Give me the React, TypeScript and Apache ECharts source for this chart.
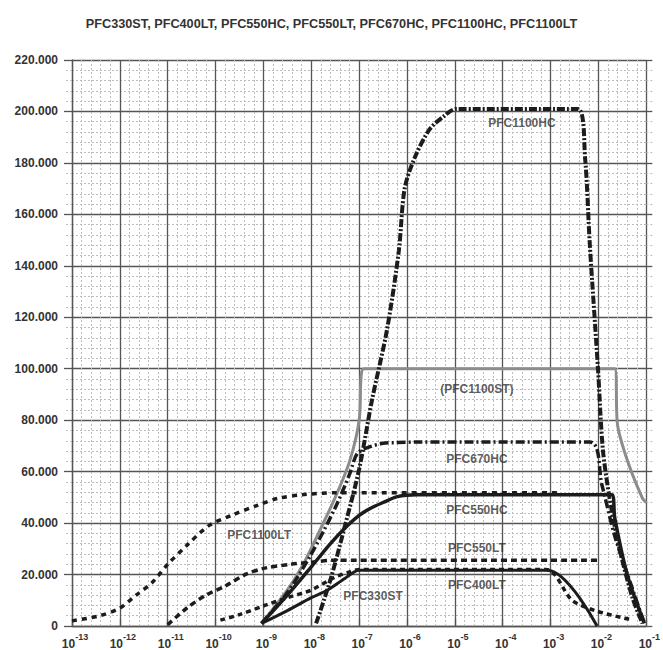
import React, { useEffect, useRef } from "react";
import * as echarts from "echarts";

// x values are stored as log10 exponents (axis runs from 10^-13 to 10^-1); y values in thousands
const xTicks = [-13, -12, -11, -10, -9, -8, -7, -6, -5, -4, -3, -2, -1];
const yTicks = [0, 20, 40, 60, 80, 100, 120, 140, 160, 180, 200, 220];

const hc1100LogX = [-7.9, -7.6, -7.31, -7.0, -6.73, -6.42, -6.17, -6.05, -5.84, -5.53, -5.24, -4.97, -2.43, -2.28, -2.18, -2.01, -1.91, -1.77, -1.56, -1.29, -1.08];
const hc1100Y = [1, 18, 38, 61, 88, 115, 146, 170, 182, 193, 198, 201, 201, 182, 148, 100, 69, 50, 30, 11, 1];

const st1100LogX = [-9.04, -8.5, -8.14, -7.8, -7.5, -7.2, -7.0, -6.96, -6.9, -1.66, -1.6, -1.39, -1.08, -1.0];
const st1100Y = [1, 14, 25, 38, 50, 64, 80, 97, 100, 100, 78, 64, 49.6, 48];

const hc670LogX = [-9.04, -8.5, -8.0, -7.5, -7.2, -7.04, -6.8, -6.5, -6.2, -5.8, -2.18, -1.93, -1.66, -1.3, -1.04];
const hc670Y = [1, 13, 28, 46, 59, 67, 69.5, 71, 71.3, 71.5, 71.5, 55, 35, 15, 1];

const hc550LogX = [-9.04, -8.5, -8.0, -7.6, -7.3, -7.0, -6.77, -6.5, -6.2, -5.8, -5.0, -1.72, -1.66, -1.4, -1.04];
const hc550Y = [1, 12, 23, 32, 38, 43, 45.7, 48, 50.3, 51, 51, 51, 42, 20, 1];

const st330LogX = [-9.04, -8.5, -8.0, -7.66, -7.3, -7.0, -3.07, -2.03];
const st330Y = [1, 6, 11, 14, 18.5, 21.7, 21.7, 0];

const lt400LogX = [-9.9, -9.52, -8.97, -8.5, -8.0, -7.5, -7.2, -7.0, -3.1, -2.55, -2.07, -1.45, -1.3];
const lt400Y = [2.3, 4.3, 8, 11, 14, 19, 21, 22, 22, 10, 6, 3, 2.5];

const lt550LogX = [-11.0, -10.6, -10.2, -9.8, -9.38, -8.97, -8.43, -8.0, -7.5, -1.97];
const lt550Y = [0.5, 7, 12, 15.5, 20, 22.5, 24, 24.8, 25.6, 25.6];

const lt1100LogX = [-13.0, -12.42, -12.0, -11.66, -11.32, -11.0, -10.62, -10.14, -9.67, -9.11, -8.7, -8.2, -7.5, -2.84];
const lt1100Y = [2, 4, 7, 12, 17, 24, 31, 39, 43, 47, 49.6, 51, 51.8, 51.8];

const labelNames = ["PFC1100HC", "(PFC1100ST)", "PFC670HC", "PFC550HC", "PFC550LT", "PFC400LT", "PFC330ST", "PFC1100LT"];
const labelLogX = [-3.6, -4.54, -4.54, -4.54, -4.54, -4.54, -6.71, -9.09];
const labelY = [195.6, 92.2, 65, 45, 30.2, 15.9, 11.6, 35.2];

const titleText = "PFC330ST, PFC400LT, PFC550HC, PFC550LT, PFC670HC, PFC1100HC, PFC1100LT";

const FONT = "'Liberation Sans', Arial, sans-serif";
const TXT = "#333333";
const MAJOR = "#555555";
const MINOR = "#bdbdbd";

const zip = (xs: number[], ys: number[]) => xs.map((x, i) => [x, ys[i]]);

export default function App() {
  const ref = useRef<HTMLDivElement>(null);
  useEffect(() => {
    if (!ref.current) return;
    const chart = echarts.init(ref.current, null, { renderer: "svg" });

    const lineSeries = (name: string, xs: number[], ys: number[], color: string, width: number, type: any, z = 3) => ({
      name,
      type: "line",
      data: zip(xs, ys),
      showSymbol: false,
      symbol: "none",
      smooth: 0.3,
      z,
      lineStyle: { color, width, type, cap: "butt" },
    });

    const xBase = { type: "value", min: xTicks[0], max: xTicks[xTicks.length - 1], interval: 1 };
    const yBase = { type: "value", min: yTicks[0], max: yTicks[yTicks.length - 1], interval: 20 };
    const minorStyle = { color: MINOR, width: 1, type: [2, 2] };
    const majorStyle = { color: MAJOR, width: 1.3 };

    chart.setOption({
      animation: false,
      backgroundColor: "#ffffff",
      title: {
        text: titleText,
        left: "center",
        top: 12,
        textStyle: { fontFamily: FONT, fontSize: 12.7, fontWeight: "bold", color: TXT },
      },
      grid: { left: 72, right: 11, top: 60, bottom: 22, containLabel: false },
      xAxis: [
        {
          ...xBase,
          position: "bottom",
          axisLine: { show: true, lineStyle: majorStyle },
          axisTick: { show: false },
          minorTick: { show: false, splitNumber: 5 },
          splitLine: { show: true, lineStyle: majorStyle },
          minorSplitLine: { show: true, lineStyle: minorStyle },
          axisLabel: {
            margin: 6,
            formatter: (v: number) => `{sp| }{b|10}{s|${v}}`,
            rich: {
              sp: { width: 6, fontSize: 12, lineHeight: 18 },
              b: { fontFamily: FONT, fontSize: 12, fontWeight: "bold", color: TXT, verticalAlign: "bottom", lineHeight: 18 },
              s: { fontFamily: FONT, fontSize: 9, fontWeight: "bold", color: TXT, verticalAlign: "top", lineHeight: 10 },
            },
          },
        },
        {
          ...xBase,
          position: "top",
          axisLine: { show: false },
          axisLabel: { show: false },
          axisTick: { show: true, length: 7, lineStyle: majorStyle },
          minorTick: { show: true, splitNumber: 5, length: 7, lineStyle: minorStyle },
          splitLine: { show: false },
        },
      ],
      yAxis: [
        {
          ...yBase,
          position: "left",
          axisLine: { show: true, lineStyle: majorStyle },
          axisTick: { show: true, length: 8, lineStyle: majorStyle },
          minorTick: { show: true, splitNumber: 5, length: 8, lineStyle: minorStyle },
          splitLine: { show: true, lineStyle: majorStyle },
          minorSplitLine: { show: true, lineStyle: minorStyle },
          axisLabel: {
            margin: 14,
            fontFamily: FONT,
            fontSize: 12,
            fontWeight: "bold",
            color: TXT,
            formatter: (v: number) => (v === 0 ? "0" : `${v}.000`),
          },
        },
        {
          ...yBase,
          position: "right",
          axisLine: { show: false },
          axisLabel: { show: false },
          axisTick: { show: true, length: 6, lineStyle: majorStyle },
          minorTick: { show: true, splitNumber: 5, length: 6, lineStyle: minorStyle },
          splitLine: { show: false },
        },
      ],
      series: [
        lineSeries("PFC1100ST", st1100LogX, st1100Y, "#8c8c8c", 3, "solid", 2),
        lineSeries("PFC550LT", lt550LogX, lt550Y, "#1c1c1c", 3.5, [6, 4]),
        lineSeries("PFC1100LT", lt1100LogX, lt1100Y, "#1c1c1c", 3.5, [5, 5]),
        lineSeries("PFC400LT", lt400LogX, lt400Y, "#1c1c1c", 3.5, [5, 4]),
        lineSeries("PFC330ST", st330LogX, st330Y, "#1c1c1c", 3, "solid"),
        lineSeries("PFC550HC", hc550LogX, hc550Y, "#1c1c1c", 3.5, "solid"),
        lineSeries("PFC670HC", hc670LogX, hc670Y, "#1c1c1c", 3.5, [9, 3, 2, 3]),
        lineSeries("PFC1100HC", hc1100LogX, hc1100Y, "#1c1c1c", 4, [8, 2, 2, 2]),
        {
          name: "labels",
          type: "scatter",
          symbolSize: 0,
          z: 5,
          data: labelNames.map((n, i) => [labelLogX[i], labelY[i], n]),
          label: {
            show: true,
            position: "inside",
            formatter: (p: any) => p.data[2],
            fontFamily: FONT,
            fontSize: 12,
            fontWeight: "bold",
            color: TXT,
          },
          silent: true,
        },
      ],
    });

    return () => chart.dispose();
  }, []);

  return (
    <div
      ref={ref}
      style={{ position: "absolute", left: 0, top: 0, width: 663, height: 650, background: "#fff" }}
    />
  );
}
